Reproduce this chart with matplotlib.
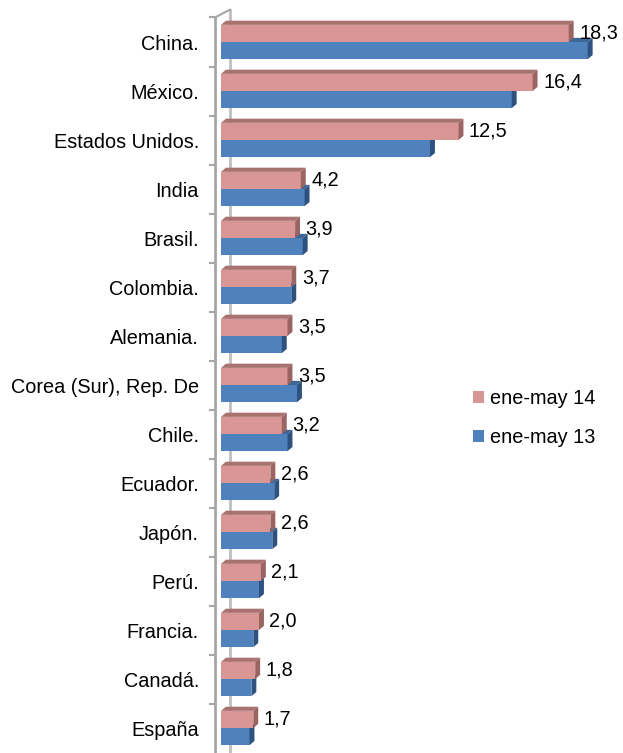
import matplotlib.pyplot as plt
from matplotlib.patches import Polygon, Patch

plt.rcParams['font.family'] = ['Liberation Sans', 'DejaVu Sans']

countries = ['China.', 'México.', 'Estados Unidos.', 'India', 'Brasil.', 'Colombia.',
             'Alemania.', 'Corea (Sur), Rep. De', 'Chile.', 'Ecuador.', 'Japón.',
             'Perú.', 'Francia.', 'Canadá.', 'España']
v14 = [18.3, 16.4, 12.5, 4.2, 3.9, 3.7, 3.5, 3.5, 3.2, 2.6, 2.6, 2.1, 2.0, 1.8, 1.7]
v13 = [19.3, 15.3, 11.0, 4.4, 4.3, 3.7, 3.2, 4.0, 3.5, 2.8, 2.7, 2.0, 1.7, 1.6, 1.5]
series = ['ene-may 14', 'ene-may 13']

PINK = ('#D99694', '#A8726F', '#9A6462')   # front, top, side
BLUE = ('#4F81BD', '#3D6699', '#2E5280')

H = 0.35          # bar thickness (category units)
DX = 0.26         # 3d depth in value units
DY = 0.085        # 3d depth in category units
FS = 14.3


def bar3d(ax, yc, val, colors, zo):
    front, top, side = colors
    y0, y1 = yc - H / 2, yc + H / 2
    ax.barh(yc, val, height=H, color=front, edgecolor='none', zorder=zo)
    ax.add_patch(Polygon([(0, y0), (DX, y0 - DY), (val + DX, y0 - DY), (val, y0)],
                         closed=True, fc=top, ec='none', zorder=zo))
    ax.add_patch(Polygon([(val, y0), (val + DX, y0 - DY), (val + DX, y1 - DY), (val, y1)],
                         closed=True, fc=side, ec='none', zorder=zo))


fig = plt.figure(figsize=(6.23, 7.53), dpi=100)
ax = fig.add_axes([213.4 / 623, 0, 387.6 / 623, 1 - 17.5 / 753])
n = len(countries)
ax.set_xlim(-0.4, 20.0)
ax.set_ylim(n - 0.49, -0.5)

# wall: front and back edges
wall_front, wall_back = -0.32, 0.47
ax.plot([wall_front, wall_front], [-0.5, n], color='#A6A6A6', lw=2, zorder=1, clip_on=False)
ax.plot([wall_back, wall_back], [-0.66, n], color='#BFBFBF', lw=2, zorder=1, clip_on=False)
ax.plot([wall_front, wall_back], [-0.5, -0.66], color='#A6A6A6', lw=1.5, zorder=1, clip_on=False)
for b in range(n):
    ax.plot([wall_front - 0.28, wall_front], [b - 0.5, b - 0.5], color='#A6A6A6', lw=1.5,
            zorder=1, clip_on=False)

for i in range(n):
    bar3d(ax, i + H / 2, v13[i], BLUE, 3 + 2 * i)
    bar3d(ax, i - H / 2, v14[i], PINK, 4 + 2 * i)
    ax.annotate(f'{v14[i]:.1f}'.replace('.', ','), (v14[i] + DX, i - H / 2),
                xytext=(4, 0), textcoords='offset points', va='center', ha='left',
                fontsize=FS, zorder=50)

ax.set_yticks(range(n))
ax.set_yticklabels(countries, fontsize=FS)
ax.tick_params(axis='y', length=0, pad=10.4)
ax.set_xticks([])
for s in ax.spines.values():
    s.set_visible(False)

handles = [Patch(fc=PINK[0], ec='none'), Patch(fc=BLUE[0], ec='none')]
fig.legend(handles, series, loc='center left', bbox_to_anchor=(455 / 623, 1 - 418 / 753),
           frameon=False, fontsize=FS, handlelength=0.55, handleheight=0.55,
           handletextpad=0.3, labelspacing=1.0)

fig.savefig('out.png', dpi=100)
